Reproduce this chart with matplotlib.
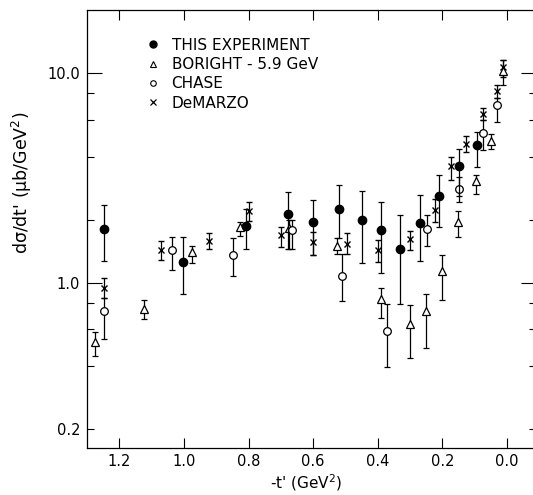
import matplotlib
matplotlib.use("Agg")
import matplotlib.pyplot as plt
from matplotlib.lines import Line2D
from matplotlib.ticker import FixedLocator, FixedFormatter
import numpy as np

plt.rcParams['font.family'] = ['DejaVu Sans']
plt.rcParams['mathtext.fontset'] = 'dejavusans'

# THIS EXPERIMENT (filled circles)
exp_t = [1.247, 1.0015, 0.808, 0.677, 0.600, 0.520, 0.450, 0.390, 0.330, 0.270, 0.210, 0.149, 0.093]
exp_v = [1.80, 1.26, 1.86, 2.12, 1.95, 2.24, 2.00, 1.78, 1.45, 1.93, 2.59, 3.59, 4.53]
exp_lo = [1.27, 0.88, 1.45, 1.45, 1.355, 1.63, 1.245, 1.12, 0.79, 1.27, 1.85, 2.59, 3.57]
exp_hi = [2.34, 1.66, 2.26, 2.71, 2.49, 2.92, 2.74, 2.43, 2.10, 2.61, 3.28, 4.33, 5.24]

# BORIGHT - 5.9 GeV (open triangles)
bor_t = [1.275, 1.125, 0.974, 0.826, 0.675, 0.527, 0.391, 0.2986, 0.251, 0.200, 0.1515, 0.097, 0.048, 0.012]
bor_v = [0.52, 0.75, 1.40, 1.85, 1.83, 1.50, 0.84, 0.636, 0.733, 1.14, 1.94, 3.05, 4.74, 10.2]
bor_lo = [0.45, 0.67, 1.25, 1.67, 1.45, 1.38, 0.68, 0.44, 0.49, 0.83, 1.66, 2.64, 4.36, 8.8]
bor_hi = [0.585, 0.83, 1.50, 1.94, 2.0, 1.63, 0.95, 0.78, 0.88, 1.355, 2.19, 3.25, 5.14, 11.6]

# CHASE (open circles)
cha_t = [1.247, 1.037, 0.849, 0.665, 0.512, 0.371, 0.247, 0.149, 0.074, 0.031]
cha_v = [0.733, 1.43, 1.365, 1.78, 1.08, 0.59, 1.80, 2.79, 5.18, 7.02]
cha_lo = [0.54, 1.15, 1.08, 1.45, 0.82, 0.395, 1.5, 2.43, 4.3, 5.85]
cha_hi = [0.85, 1.66, 1.64, 2.0, 1.37, 0.79, 2.1, 3.2, 5.95, 7.6]

# DeMARZO (crosses)
dem_t = [1.247, 1.071, 0.922, 0.798, 0.6995, 0.600, 0.496, 0.4006, 0.2986, 0.2235, 0.174, 0.1255, 0.074, 0.031, 0.012]
dem_v = [0.95, 1.43, 1.58, 2.19, 1.69, 1.56, 1.54, 1.43, 1.61, 2.22, 3.59, 4.61, 6.41, 8.21, 10.7]
dem_lo = [0.85, 1.29, 1.45, 1.97, 1.48, 1.355, 1.38, 1.26, 1.44, 1.95, 3.11, 4.2, 5.95, 7.6, 9.6]
dem_hi = [1.05, 1.58, 1.73, 2.43, 1.85, 1.74, 1.72, 1.6, 1.76, 2.52, 3.98, 5.0, 6.85, 8.8, 11.6]

labels = ["THIS EXPERIMENT", "BORIGHT - 5.9 GeV", "CHASE", "DeMARZO"]
xticks = [1.2, 1.0, 0.8, 0.6, 0.4, 0.2, 0.0]
xticklabels = ["1.2", "1.0", "0.8", "0.6", "0.4", "0.2", "0.0"]
ymajor = [1.0, 10.0]
ymajor_labels = ["1.0", "10.0"]
yminor = [0.2, 0.4, 0.6, 0.8, 2, 4, 6, 8]
yminor_labels = ["0.2", "", "", "", "", "", "", ""]

fig = plt.figure(figsize=(5.33, 4.95), dpi=100)
ax = fig.add_axes([87/533, 47.5/495, 449/533, 437.5/495])

def eb(t, v, lo, hi, fmt, **kw):
    v = np.array(v); lo = np.array(lo); hi = np.array(hi)
    ax.errorbar(t, v, yerr=[v - lo, hi - v], fmt=fmt, color='black', ecolor='black',
                elinewidth=0.9, capsize=2.5, capthick=0.9, **kw)

eb(exp_t, exp_v, exp_lo, exp_hi, 'o', markersize=6, markerfacecolor='black', markeredgecolor='black', zorder=4)
eb(bor_t, bor_v, bor_lo, bor_hi, '^', markersize=5.5, markerfacecolor='white', markeredgecolor='black', markeredgewidth=0.9, zorder=3)
eb(cha_t, cha_v, cha_lo, cha_hi, 'o', markersize=5.5, markerfacecolor='white', markeredgecolor='black', markeredgewidth=0.9, zorder=3)
eb(dem_t, dem_v, dem_lo, dem_hi, 'x', markersize=4.5, markeredgewidth=1.0, zorder=3)

ax.set_yscale('log')
ax.set_xlim(1.3, -0.09)
ax.set_ylim(0.164, 20)

ax.xaxis.set_major_locator(FixedLocator(xticks))
ax.xaxis.set_major_formatter(FixedFormatter(xticklabels))
ax.yaxis.set_major_locator(FixedLocator(ymajor))
ax.yaxis.set_major_formatter(FixedFormatter(ymajor_labels))
ax.yaxis.set_minor_locator(FixedLocator(yminor))
ax.yaxis.set_minor_formatter(FixedFormatter(yminor_labels))

ax.tick_params(axis='both', which='both', direction='in', top=True, right=True,
               labelsize=10.5, width=0.8, pad=5)
ax.tick_params(axis='y', which='major', length=11)
ax.tick_params(axis='y', which='minor', length=5)
ax.tick_params(axis='x', which='major', length=7)

for s in ax.spines.values():
    s.set_linewidth(0.9)

ax.set_xlabel("-t' (GeV$^{2}$)", fontsize=11)
ax.xaxis.set_label_coords(0.487, -0.057)
ax.set_ylabel("d\u03c3/dt' (\u03bcb/GeV$^{2}$)", fontsize=12.5)
ax.yaxis.set_label_coords(-0.118, 0.606)

handles = [
    Line2D([], [], ls='none', marker='o', markersize=5, color='black'),
    Line2D([], [], ls='none', marker='^', markersize=4, markerfacecolor='white', markeredgecolor='black', markeredgewidth=0.8),
    Line2D([], [], ls='none', marker='o', markersize=4, markerfacecolor='white', markeredgecolor='black', markeredgewidth=0.8),
    Line2D([], [], ls='none', marker='x', markersize=4, color='black', markeredgewidth=0.9),
]
leg = ax.legend(handles, labels, loc='upper left', bbox_to_anchor=(0.1154, 0.954),
                frameon=False, fontsize=11, handlelength=0.8, handletextpad=0.84,
                labelspacing=0.28, borderpad=0)

fig.savefig("out.png", dpi=100)
